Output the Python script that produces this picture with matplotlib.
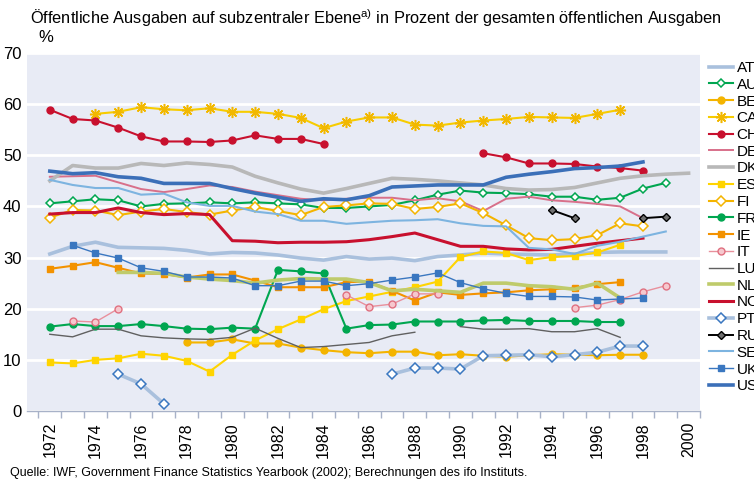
import numpy as np
import matplotlib
matplotlib.use("Agg")
import matplotlib.pyplot as plt

plt.rcParams['font.family'] = ['Liberation Sans', 'DejaVu Sans']
plt.rcParams['mathtext.fontset'] = 'custom'
plt.rcParams['mathtext.rm'] = 'Liberation Sans'

# Years 1972..2000, None = no data
years = list(range(1972, 2001))
N = None

AT = [30.7, 32.2, 33.0, 32.0, 31.9, 31.8, 31.4, 30.7, 31.0, 30.9, 30.5, 29.9, 29.5, 30.2, 29.7,
      29.9, 29.4, 30.2, 30.5, 30.9, 30.7, 30.6, 30.5, 30.7, 31.0, 31.1, 31.1, 31.1, N]
AU = [40.6, 41.0, 41.4, 41.2, 40.0, 40.5, 40.6, 40.8, 40.6, 40.8, 40.6, 40.4, 39.7, 39.7, 40.0,
      40.3, 41.2, 42.3, 43.1, 42.7, 42.6, 42.4, 41.9, 41.9, 41.3, 41.7, 43.5, 44.6, N]
BE = [N, N, N, N, N, N, 13.4, 13.4, 14.0, 13.2, 13.2, 12.4, 11.9, 11.5, 11.3,
      11.6, 11.6, 10.9, 11.1, 10.8, 10.6, 10.9, 11.1, 11.0, 10.9, 11.0, 11.0, N, N]
CA = [N, N, 58.1, 58.5, 59.4, 59.0, 58.8, 59.2, 58.5, 58.5, 58.1, 57.3, 55.3, 56.6, 57.4,
      57.4, 56.0, 55.8, 56.4, 56.8, 57.1, 57.5, 57.4, 57.3, 58.1, 58.9, N, N, N]
CH = [58.9, 57.1, 56.8, 55.4, 53.7, 52.7, 52.7, 52.6, 52.9, 53.9, 53.2, 53.2, 52.2, N, N,
      N, N, N, N, 50.4, 49.6, 48.4, 48.4, 48.3, 47.8, 47.5, 47.0, N, N]
DE = [45.8, 45.9, 46.0, 44.7, 43.4, 42.8, 43.4, 44.1, 43.8, 42.9, 42.2, 41.5, 41.2, 41.5, 41.7,
      41.7, 41.2, 41.6, 41.0, 39.1, 41.5, 41.9, 41.2, 40.9, 40.5, 40.0, 37.7, N, N]
DK = [45.0, 48.0, 47.5, 47.5, 48.4, 48.0, 48.5, 48.2, 47.7, 45.9, 44.6, 43.4, 42.6, 43.5, 44.5,
      45.5, 45.3, 45.0, 44.6, 44.2, 43.5, 43.2, 43.3, 43.7, 44.6, 45.5, 46.0, 46.3, 46.5]
ES = [9.5, 9.3, 10.0, 10.3, 11.2, 10.8, 9.8, 7.7, 11.0, 13.8, 16.0, 17.9, 19.9, 21.5, 22.4,
      23.3, 24.2, 25.3, 30.1, 31.2, 30.9, 29.5, 30.1, 30.3, 31.0, 32.5, N, N, N]
FI = [37.8, 39.3, 39.2, 38.3, 39.0, 39.5, 38.9, 38.4, 39.2, 39.9, 39.1, 38.3, 39.9, 40.2, 40.6,
      40.5, 39.5, 39.9, 40.6, 38.7, 36.3, 33.8, 33.4, 33.6, 34.4, 36.7, 36.1, N, N]
FR = [16.5, 17.0, 16.6, 16.6, 17.0, 16.6, 16.1, 16.0, 16.3, 16.1, 27.6, 27.3, 26.9, 16.1, 16.8,
      16.9, 17.5, 17.5, 17.5, 17.7, 17.8, 17.6, 17.6, 17.6, 17.4, 17.4, N, N, N]
IE = [27.8, 28.4, 29.1, 28.0, 26.9, 26.8, 26.1, 26.7, 26.7, 25.5, 24.2, 24.2, 24.2, 25.2, 25.3,
      23.5, 21.6, 23.2, 22.7, 23.0, 23.2, 23.6, 23.8, 24.1, 24.8, 25.2, N, N, N]
IT = [N, 17.6, 17.4, 20.0, N, N, N, N, N, N, N, N, N, 22.7, 20.4,
      20.9, 22.9, 22.9, N, N, N, N, N, 20.2, 20.7, 21.8, 23.3, 24.5, N]
LU = [15.0, 14.5, 16.0, 16.0, 14.7, 14.3, 14.1, 14.0, 14.4, 16.2, 14.2, 12.4, 12.6, 13.0, 13.4,
      14.7, 15.4, N, 16.5, 16.0, 16.0, 16.1, 15.5, 15.5, 16.1, 14.4, N, N, N]
NL = [N, N, N, 27.1, 27.1, 26.9, 26.2, 25.8, 25.5, 25.0, 25.6, 25.9, 25.8, 25.8, 25.1,
      23.5, 23.8, 23.5, 23.2, 25.0, 25.0, 24.5, 24.3, 23.8, 25.0, 22.1, N, N, N]
NO = [38.5, 38.8, 38.8, 39.7, 38.8, 38.4, 38.6, 38.4, 33.3, 33.2, 32.9, 33.0, 33.0, 33.1, 33.5,
      34.1, 34.8, 33.5, 32.2, 32.2, 31.7, 31.5, 31.6, 32.2, 32.8, 33.3, 33.8, N, N]
PT = [N, N, N, 7.2, 5.3, 1.4, N, N, N, N, N, N, N, N, N,
      7.2, 8.4, 8.4, 8.2, 10.8, 10.9, 11.0, 10.6, 11.0, 11.5, 12.7, 12.7, N, N]
RU = [N, N, N, N, N, N, N, N, N, N, N, N, N, N, N,
      N, N, N, N, N, N, N, 39.3, 37.7, N, N, 37.7, 38.0, N]
SE = [45.2, 44.2, 43.6, 43.6, 42.3, 42.5, 40.8, 40.1, 40.1, 39.0, 38.5, 37.2, 37.2, 36.6, 36.9,
      37.2, 37.3, 37.5, 36.7, 36.2, 36.1, 31.9, 31.6, 30.7, 32.3, 33.1, 34.1, 35.1, N]
UK = [N, 32.4, 30.9, 29.9, 28.0, 27.3, 26.2, 26.2, 26.0, 24.5, 24.5, 25.4, 25.4, 24.5, 24.9,
      25.6, 26.2, 27.0, 25.1, 23.9, 23.0, 22.4, 22.4, 22.3, 21.7, 21.9, 22.1, N, N]
US = [46.9, 46.4, 46.6, 45.8, 45.5, 44.5, 44.5, 44.5, 43.5, 42.6, 41.8, 41.0, 41.5, 41.3, 42.1,
      43.8, 44.0, 44.2, 44.2, 44.2, 45.7, 46.3, 46.8, 47.4, 47.6, 47.9, 48.7, N, N]

series = [
    ("AT", AT, dict(color='#A9C0DD', lw=2.6)),
    ("AU", AU, dict(color='#00A650', lw=1.5, marker='D', ms=4.2, mfc='white', mec='#00A650', mew=1.1)),
    ("BE", BE, dict(color='#F4B400', lw=1.5, marker='o', ms=5)),
    ("CA", CA, dict(color='#F7CC00', lw=1.5, marker=(8, 2, 0), ms=8, mec='#F2B800', mew=1.1)),
    ("CH", CH, dict(color='#C8102E', lw=1.5, marker='o', ms=5)),
    ("DE", DE, dict(color='#D8708A', lw=1.4)),
    ("DK", DK, dict(color='#B8B8B8', lw=2.6)),
    ("ES", ES, dict(color='#FFD400', lw=1.5, marker='s', ms=5)),
    ("FI", FI, dict(color='#F4B400', lw=1.5, marker='D', ms=5, mfc='white', mec='#F4B400', mew=1.1)),
    ("FR", FR, dict(color='#00A650', lw=1.5, marker='o', ms=5)),
    ("IE", IE, dict(color='#F39200', lw=1.5, marker='s', ms=5)),
    ("IT", IT, dict(color='#E8909C', lw=1.0, marker='o', ms=5, mfc='#F6C8CE', mec='#E07080', mew=1.0)),
    ("LU", LU, dict(color='#606060', lw=1.0)),
    ("NL", NL, dict(color='#BFCB6B', lw=2.6)),
    ("NO", NO, dict(color='#C8102E', lw=2.2)),
    ("PT", PT, dict(color='#A9C0DD', lw=2.6, marker='D', ms=5, mfc='white', mec='#3A77C0', mew=1.1)),
    ("RU", RU, dict(color='black', lw=1.4, marker='D', ms=4, mfc='#707070', mec='black', mew=1.0)),
    ("SE", SE, dict(color='#7DB4E0', lw=1.5)),
    ("UK", UK, dict(color='#3A77C0', lw=1.0, marker='s', ms=5)),
    ("US", US, dict(color='#3B6FB8', lw=2.6)),
]

fig = plt.figure(figsize=(7.54, 4.83), dpi=100)
ax = fig.add_axes([27 / 754, 1 - 411 / 483, 673 / 754, 358 / 483])
ax.set_facecolor('#E8EBF5')

for name, vals, style in series:
    y = np.array([np.nan if v is None else v for v in vals], dtype=float)
    ax.plot(years, y, label=name, solid_joinstyle='round', **style)

ax.set_ylim(0, 70)
ax.set_xlim(1971.0, 2000.45)
ax.set_yticks(range(0, 80, 10))
ax.yaxis.grid(True, color='white', lw=2)
ax.set_axisbelow(True)
for s in ['top', 'right', 'left']:
    ax.spines[s].set_visible(False)
ax.spines['bottom'].set_color('#A8B2C8')
ax.spines['bottom'].set_linewidth(1.0)
ax.tick_params(axis='y', length=0, labelsize=12, pad=4)

ax.set_xticks(range(1972, 2001, 2))
ax.set_xticks(np.arange(1971.5, 2000.6, 1), minor=True)
ax.tick_params(axis='x', which='major', length=0, labelsize=11.5, rotation=90, pad=8)
ax.tick_params(axis='x', which='minor', length=5, color='#A8B2C8', width=1)

leg = ax.legend(loc='upper left', bbox_to_anchor=(709 / 754, 1 - 61 / 483),
                bbox_transform=fig.transFigure, frameon=False, fontsize=11,
                handlelength=1.6, handletextpad=0.2, labelspacing=0.18,
                borderpad=0, borderaxespad=0)

fig.text(30 / 754, 1 - 18 / 483,
         r"Öffentliche Ausgaben auf subzentraler Ebene$^{\mathrm{a)}}$ in Prozent der gesamten öffentlichen Ausgaben",
         fontsize=11.8, va='center', ha='left')
fig.text(38 / 754, 1 - 37 / 483, "%", fontsize=12, va='center', ha='left')
fig.text(10 / 754, 1 - 473 / 483,
         "Quelle: IWF, Government Finance Statistics Yearbook (2002); Berechnungen des ifo Instituts.",
         fontsize=9, va='center', ha='left')

fig.savefig('out.png', dpi=100)
